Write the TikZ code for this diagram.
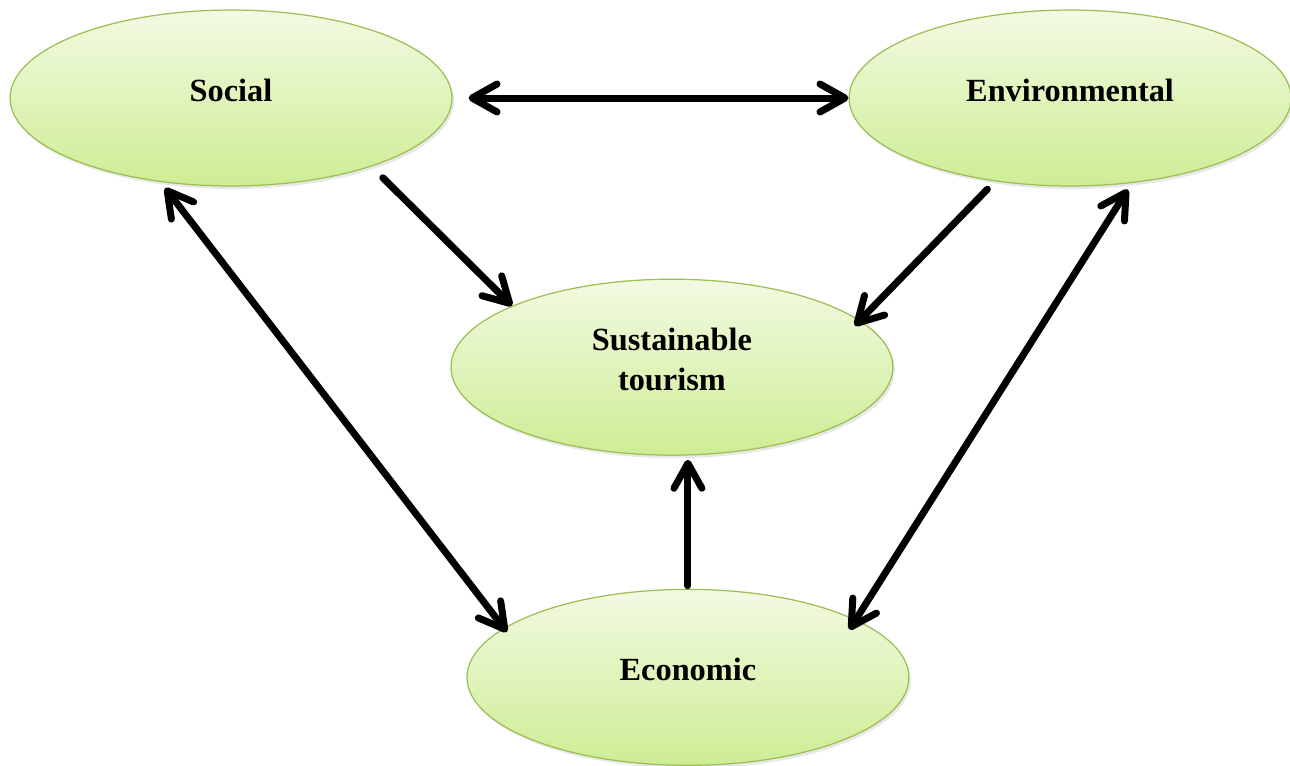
\documentclass[tikz,border=0pt]{standalone}
\usepackage{fontspec}
\setmainfont{Liberation Serif}
\usepackage{tikz}
\usetikzlibrary{positioning,arrows.meta,shapes.geometric,shadows}

\definecolor{leaftop}{RGB}{242,250,226}
\definecolor{leafbot}{RGB}{206,237,148}
\definecolor{leafedge}{RGB}{155,190,85}

\tikzset{barb/.tip={Straight Barb[length=5mm,width=5.6mm,round]}}

\begin{document}
\begin{tikzpicture}[
        x=0.02cm, y=-0.02cm,
        node_style/.style={ellipse, draw=leafedge, line width=0.7pt, top color=leaftop, bottom color=leafbot,
            minimum width=8.84cm, minimum height=3.52cm, inner sep=0pt, align=center, text depth=0.32cm,
            font=\bfseries\fontsize{18.4}{23}\selectfont,
            drop shadow={opacity=0.18, shadow xshift=0.04cm, shadow yshift=-0.06cm}},
        edge_style/.style={line width=0.14cm, line cap=round}
    ]
    \useasboundingbox (0,0) rectangle (1290,765);

    % Top row
    \node[node_style] (soc) at (231,98) {Social};
    \node[right=7.92cm of soc, node_style] (env) {Environmental};

    % Middle
    \node[below=1.84cm of soc.south, xshift=8.82cm, node_style] (sust) {Sustainable\\tourism};

    % Bottom
    \node[below=2.66cm of sust, xshift=0.32cm, node_style] (eco) {Economic};

    % Social -- Environmental
    \draw[edge_style, barb-barb, shorten <=0.32cm] (soc.east) -- (env.west);

    % Edges into Sustainable tourism
    \draw[edge_style, -barb, shorten <=0.32cm] (soc.-26) -- (sust.159);
    \draw[edge_style, -barb, shorten <=0.22cm, shorten >=-0.15cm] (env.228) -- (sust.14);
    \draw[edge_style, -barb, shorten <=0.06cm, shorten >=0.08cm] (eco.north) -- (eco.north |- sust.south);

    % Edges to Economic
    \draw[edge_style, barb-barb, shorten <=0.15cm, shorten >=-0.1cm] (soc.230) -- (eco.165);
    \draw[edge_style, barb-barb, shorten <=0.15cm, shorten >=-0.24cm] (env.-54) -- (eco.19);

\end{tikzpicture}
\end{document}
